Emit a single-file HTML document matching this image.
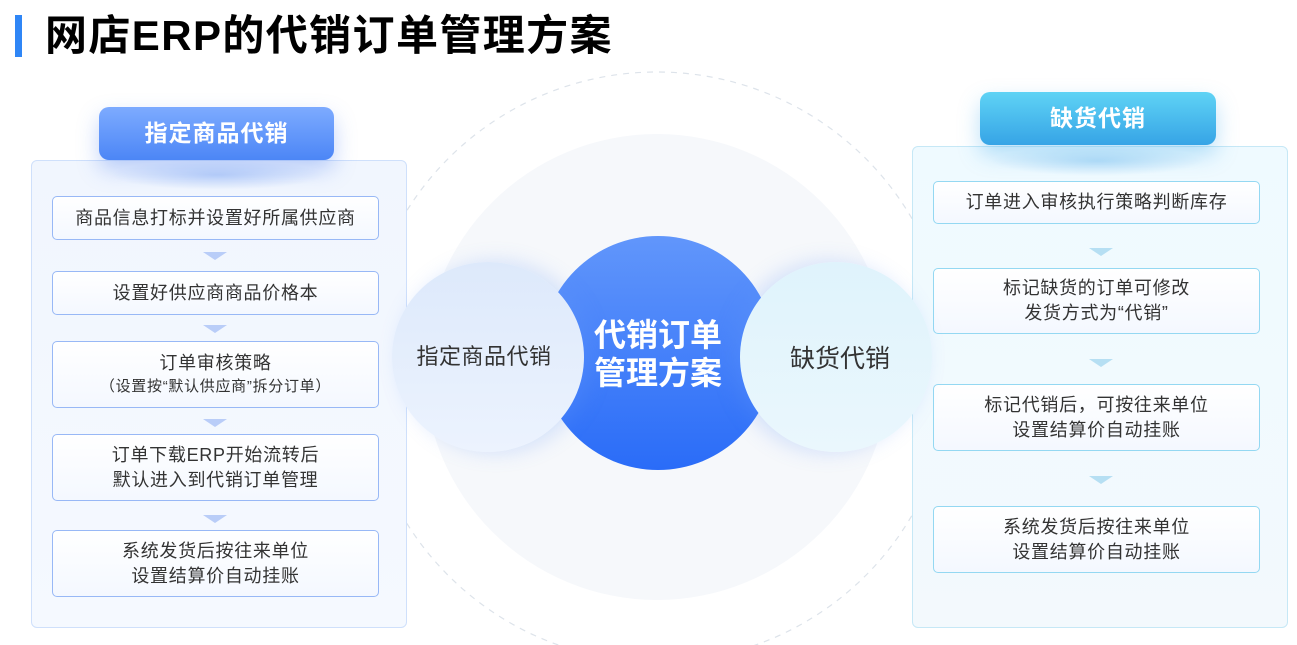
<!DOCTYPE html>
<html><head><meta charset="utf-8"><style>
body{margin:0;width:1297px;height:645px;background:#fff;position:relative;overflow:hidden;font-family:"Liberation Sans","Noto Sans CJK SC",sans-serif;}
.a{position:absolute}
.bar{left:15px;top:15px;width:7px;height:42px;background:#2f86f6}
.title{left:45px;top:10px;font-size:42px;font-weight:bold;color:#000;white-space:nowrap;line-height:52px;letter-spacing:1.4px}
.panel{border:1px solid #cfe0fb;border-radius:6px;background:linear-gradient(#f1f6fe,#f5f9ff)}
.hd{border-radius:10px;color:#fff;font-weight:bold;font-size:23px;letter-spacing:1px;text-align:center;line-height:53px;box-shadow:0 10px 22px rgba(80,130,240,0.35)}
.box{border:1.5px solid #98b8f6;border-radius:5px;background:linear-gradient(#fff,#f4f8ff);color:#333;font-size:18px;letter-spacing:0.7px;text-align:center;display:flex;flex-direction:column;justify-content:center;line-height:25px;box-sizing:border-box}
.box.c{border-color:#94d8f2}
.arr{width:0;height:0;border-left:12px solid transparent;border-right:12px solid transparent;border-top:8px solid #b9cdf8}
.arr.c{border-top-color:#b6dff3}
.circ{border-radius:50%}
</style></head><body>
<div class="a bar"></div>
<div class="a title">网店ERP的代销订单管理方案</div>

<svg class="a" style="left:0;top:0" width="1297" height="645">
<circle cx="657" cy="367" r="295" fill="none" stroke="#dde3ea" stroke-width="1.2" stroke-dasharray="6 6"/>
<circle cx="657" cy="367" r="233" fill="#f6f8fb"/>
</svg>

<div class="a panel" style="left:31px;top:160px;width:374px;height:466px"></div>
<div class="a" style="left:110px;top:160px;width:215px;height:30px;background:radial-gradient(ellipse at center,rgba(130,170,245,0.45),rgba(255,255,255,0) 70%)"></div>
<div class="a hd" style="left:99px;top:107px;width:235px;height:53px;background:linear-gradient(#7dabff,#4c86f6)">指定商品代销</div>
<div class="a box" style="left:52px;top:196px;width:327px;height:44px">商品信息打标并设置好所属供应商</div>
<div class="a arr" style="left:203px;top:252px"></div>
<div class="a box" style="left:52px;top:271px;width:327px;height:44px">设置好供应商商品价格本</div>
<div class="a arr" style="left:203px;top:325px"></div>
<div class="a box" style="left:52px;top:341px;width:327px;height:67px"><div>订单审核策略</div><div style="font-size:15px;line-height:22px">（设置按“默认供应商”拆分订单）</div></div>
<div class="a arr" style="left:203px;top:419px"></div>
<div class="a box" style="left:52px;top:434px;width:327px;height:67px"><div>订单下载ERP开始流转后</div><div>默认进入到代销订单管理</div></div>
<div class="a arr" style="left:203px;top:515px"></div>
<div class="a box" style="left:52px;top:530px;width:327px;height:67px"><div>系统发货后按往来单位</div><div>设置结算价自动挂账</div></div>

<div class="a panel" style="left:912px;top:146px;width:374px;height:480px;border-color:#c6e8f6;background:linear-gradient(#effaff,#f3f9fd)"></div>
<div class="a" style="left:990px;top:146px;width:215px;height:30px;background:radial-gradient(ellipse at center,rgba(120,190,240,0.45),rgba(255,255,255,0) 70%)"></div>
<div class="a hd" style="left:980px;top:92px;width:236px;height:53px;background:linear-gradient(#5fd3f5,#36a4e6);box-shadow:0 10px 22px rgba(60,170,235,0.35)">缺货代销</div>
<div class="a box c" style="left:933px;top:181px;width:327px;height:43px">订单进入审核执行策略判断库存</div>
<div class="a arr c" style="left:1089px;top:248px"></div>
<div class="a box c" style="left:933px;top:268px;width:327px;height:66px"><div>标记缺货的订单可修改</div><div>发货方式为“代销”</div></div>
<div class="a arr c" style="left:1089px;top:359px"></div>
<div class="a box c" style="left:933px;top:384px;width:327px;height:67px"><div>标记代销后，可按往来单位</div><div>设置结算价自动挂账</div></div>
<div class="a arr c" style="left:1089px;top:476px"></div>
<div class="a box c" style="left:933px;top:506px;width:327px;height:67px"><div>系统发货后按往来单位</div><div>设置结算价自动挂账</div></div>

<div class="a circ" style="left:541px;top:236px;width:234px;height:234px;background:linear-gradient(#6196fb,#2a6cf8)"></div>
<div class="a circ" style="left:392px;top:262px;width:192px;height:190px;background:linear-gradient(#dde9fb,#ecf3fe);box-shadow:8px 0 20px rgba(100,150,250,0.25)"></div>
<div class="a circ" style="left:740px;top:262px;width:192px;height:190px;background:linear-gradient(#dff3fc,#eaf7fd);box-shadow:-8px 0 20px rgba(100,150,250,0.25)"></div>
<div class="a" style="left:388px;top:339px;width:192px;text-align:center;font-size:22px;letter-spacing:0.5px;color:#333">指定商品代销</div>
<div class="a" style="left:744px;top:339px;width:192px;text-align:center;font-size:25px;color:#333">缺货代销</div>
<div class="a" style="left:558px;top:316px;width:200px;text-align:center;font-size:32px;font-weight:bold;color:#fff;line-height:38px">代销订单<br>管理方案</div>
</body></html>
